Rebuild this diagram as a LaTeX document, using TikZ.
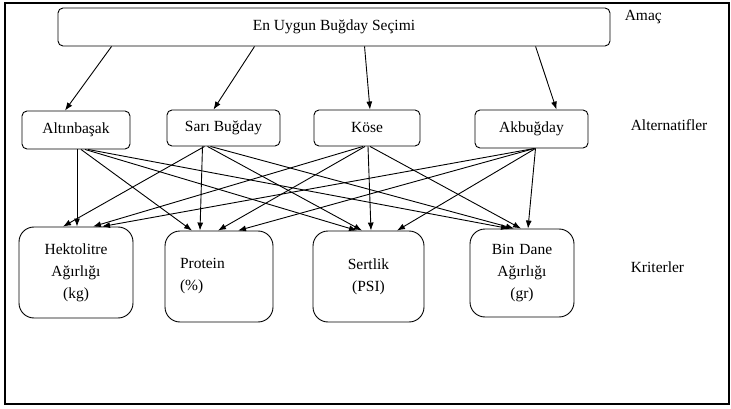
\documentclass[tikz,border=0pt]{standalone}
\usepackage{fontspec}
\setmainfont{Liberation Serif}
\usetikzlibrary{calc,arrows.meta}

\begin{document}
\begin{tikzpicture}[x=1pt,y=-1pt,line width=0.9pt,
  every node/.style={font=\fontsize{15.5}{22}\selectfont},
  altbox/.style={draw,rounded corners=5pt,inner sep=0pt},
  kritbox/.style={draw,rounded corners=15pt,inner xsep=15pt,inner ysep=0pt},
  arr/.style={-{Latex[length=8pt,width=6pt]}}]
  \useasboundingbox (0,0) rectangle (731,409);
  \draw[line width=1.3pt] (5,3) rectangle (729,404);
  \path (334,27) node[altbox,minimum width=552pt,minimum height=38pt] (goal) {En Uygun Buğday Seçimi}
  (621,17) node[anchor=west] (amac) {Amaç}
  (76,130) node[altbox,minimum width=108pt,minimum height=38pt] (a1) {Altınbaşak}
  (223.5,128) node[altbox,minimum width=113pt,minimum height=36pt] (a2) {Sarı Buğday}
  (367,128) node[altbox,minimum width=106pt,minimum height=36pt] (a3) {Köse}
  (531.5,129) node[altbox,minimum width=113pt,minimum height=38pt] (a4) {Akbuğday}
  (627,125) node[anchor=west] (alt) {Alternatifler}
  (76,272.5) node[kritbox,text width=84pt,align=center,minimum height=91pt] (k1) {Hektolitre\\Ağırlığı\\(kg)}
  (219,276.5) node[kritbox,text width=78pt,align=left,minimum height=91pt] (k2) {Protein\\(\%)}
  (368.5,276.5) node[kritbox,text width=81pt,align=center,minimum height=91pt] (k3) {Sertlik\\(PSI)}
  (522,273) node[kritbox,text width=74pt,align=center,minimum height=88pt] (k4) {Bin Dane\\Ağırlığı\\(gr)}
  (627,267) node[anchor=west] (krit) {Kriterler};
  \draw[arr] ($(goal.south west)+(54,0)$) -- ($(a1.north)+(-11,0)$);
  \draw[arr] ($(goal.south west)+(197,0)$) -- ($(a2.north)+(-10,0)$);
  \draw[arr] ($(goal.south west)+(307,0)$) -- ($(a3.north)+(3,0)$);
  \draw[arr] ($(goal.south west)+(478,0)$) -- ($(a4.north)+(25,0)$);
  \draw[arr] ($(a1.south)+(1,0)$) -- ($(k1.north)+(1,0)$);
  \draw[arr] ($(a1.south)+(5,0)$) -- ($(k2.north)+(-27,0)$);
  \draw[arr] ($(a1.south)+(9,0)$) -- ($(k3.north)+(-11.5,0)$);
  \draw[arr] ($(a1.south)+(12,0)$) -- ($(k4.north)+(-13,0)$);
  \draw[arr] ($(a2.south)+(-19,0)$) -- ($(k1.north)+(-13,0)$);
  \draw[arr] ($(a2.south)+(-21,0)$) -- ($(k2.north)+(-19,0)$);
  \draw[arr] ($(a2.south)+(-16,0)$) -- ($(k3.north)+(-6.5,0)$);
  \draw[arr] ($(a2.south)+(-13,0)$) -- ($(k4.north)+(-8,0)$);
  \draw[arr] ($(a3.south)+(-4,0)$) -- ($(k1.north)+(17,0)$);
  \draw[arr] ($(a3.south)+(-2,0)$) -- ($(k2.north)+(-1,0)$);
  \draw[arr] ($(a3.south)+(1,0)$) -- ($(k3.north)+(2.5,0)$);
  \draw[arr] ($(a3.south)+(3,0)$) -- ($(k4.north)+(-1,0)$);
  \draw[arr] ($(a4.south)+(3,0)$) -- ($(k1.north)+(26,0)$);
  \draw[arr] ($(a4.south)+(3,0)$) -- ($(k2.north)+(19,0)$);
  \draw[arr] ($(a4.south)+(4,0)$) -- ($(k3.north)+(28.5,0)$);
  \draw[arr] ($(a4.south)+(4,0)$) -- ($(k4.north)+(6,0)$);
\end{tikzpicture}
\end{document}
